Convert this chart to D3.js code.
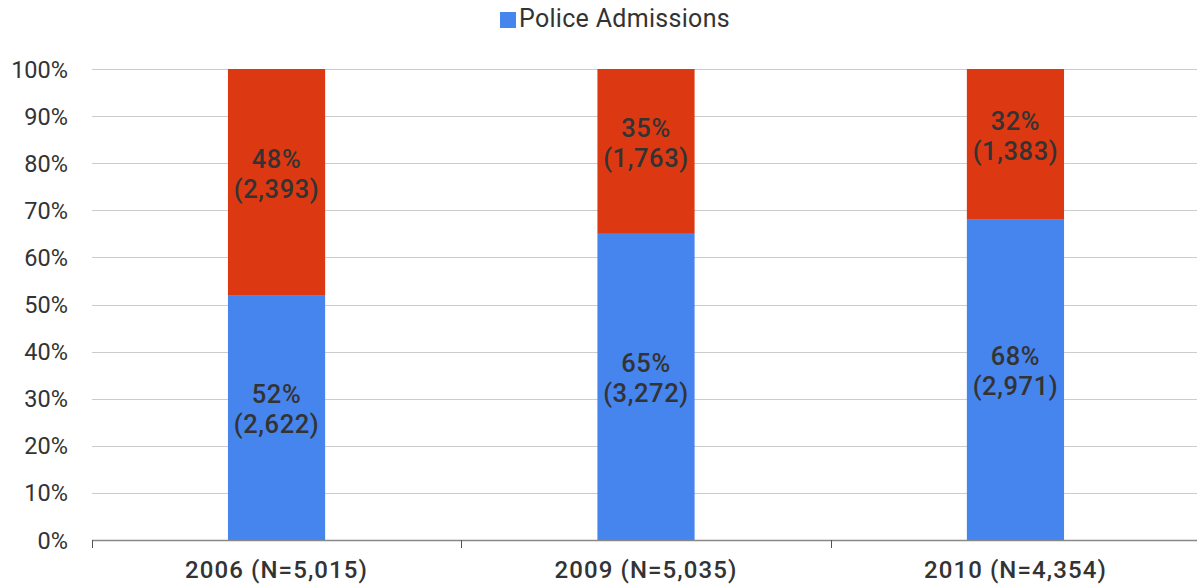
<!DOCTYPE html>
<html>
<head>
<meta charset="utf-8">
<script src="https://cdn.jsdelivr.net/npm/d3@7"></script>
<style>
body { margin: 0; background: #fff; }
text { font-family: Roboto, sans-serif; fill: #333; }
</style>
</head>
<body>
<svg id="chart" width="1197" height="586"></svg>
<script>
var years = ['2006 (N=5,015)', '2009 (N=5,035)', '2010 (N=4,354)'];
var policePct = [52, 65, 68];
var otherPct = [48, 35, 32];
var policeN = ['2,622', '3,272', '2,971'];
var otherN = ['2,393', '1,763', '1,383'];
var yTicks = [0, 10, 20, 30, 40, 50, 60, 70, 80, 90, 100];

var svg = d3.select('#chart');
var plotLeft = 92, plotRight = 1200, plotTop = 69, plotBottom = 540;

var x = d3.scaleBand().domain(years).range([plotLeft, plotRight]).paddingInner(0.737).paddingOuter(0.368);
var y = d3.scaleLinear().domain([0, 100]).range([plotBottom, plotTop]);

// grid
svg.selectAll('line.grid')
  .data(yTicks.slice(1))
  .enter().append('line')
  .attr('x1', plotLeft).attr('x2', 1197)
  .attr('y1', d => Math.round(y(d)) + 0.5).attr('y2', d => Math.round(y(d)) + 0.5)
  .attr('stroke', '#cccccc').attr('stroke-width', 1);

svg.selectAll('text.ytick')
  .data(yTicks)
  .enter().append('text')
  .attr('x', 68).attr('y', d => y(d) + 8.5)
  .attr('text-anchor', 'end')
  .style('font-size', '23.5px')
  .text(d => d + '%');

var data = years.map(function (yr, i) {
  return { year: yr, p: policePct[i], o: otherPct[i], pn: policeN[i], on: otherN[i] };
});

// police (bottom)
svg.selectAll('rect.police')
  .data(data).enter().append('rect')
  .attr('x', d => x(d.year)).attr('width', x.bandwidth())
  .attr('y', d => y(d.p)).attr('height', d => y(0) - y(d.p))
  .attr('fill', '#4684ee');

svg.selectAll('rect.other')
  .data(data).enter().append('rect')
  .attr('x', d => x(d.year)).attr('width', x.bandwidth())
  .attr('y', d => y(d.p + d.o)).attr('height', d => y(d.p) - y(d.p + d.o))
  .attr('fill', '#dc3912');

function label(sel, v0, v1, pct, n) {
  var cx = d => x(d.year) + x.bandwidth() / 2;
  var cy = d => y((v0(d) + v1(d)) / 2);
  sel.append('text')
    .attr('text-anchor', 'middle')
    .style('font-size', '25.5px').style('font-weight', '500').style('letter-spacing', '0.6px')
    .attr('x', cx).attr('y', d => cy(d) - 14.5)
    .text(d => pct(d) + '%');
  sel.append('text')
    .attr('text-anchor', 'middle')
    .style('font-size', '25.5px').style('font-weight', '500').style('letter-spacing', '0.6px')
    .attr('x', cx).attr('y', d => cy(d) + 15.5)
    .text(d => '(' + n(d) + ')');
}
var lg = svg.append('g');
label(lg.selectAll('text.p').data(data).enter(), d => 0, d => d.p, d => d.p, d => d.pn);
label(lg.selectAll('text.o').data(data).enter(), d => d.p, d => d.p + d.o, d => d.o, d => d.on);

// x axis
svg.append('line')
  .attr('x1', plotLeft).attr('x2', 1197)
  .attr('y1', plotBottom + 0.5).attr('y2', plotBottom + 0.5)
  .attr('stroke', '#888').attr('stroke-width', 1.5);

var sep = [plotLeft].concat(years.slice(1).map(d => x(d) - x.step() * x.paddingInner() / 2));
svg.selectAll('line.xtick')
  .data(sep).enter().append('line')
  .attr('x1', d => Math.round(d) + 0.5).attr('x2', d => Math.round(d) + 0.5)
  .attr('y1', plotBottom).attr('y2', plotBottom + 8)
  .attr('stroke', '#555').attr('stroke-width', 1);

svg.selectAll('text.xlab')
  .data(years).enter().append('text')
  .attr('x', d => x(d) + x.bandwidth() / 2)
  .attr('y', 578)
  .attr('text-anchor', 'middle')
  .style('font-size', '24px').style('font-weight', '500').style('letter-spacing', '1.1px')
  .text(d => d);

// legend
svg.append('rect').attr('x', 500).attr('y', 12).attr('width', 16).attr('height', 16).attr('fill', '#4684ee');
svg.append('text').attr('x', 519).attr('y', 27).style('font-size', '25px').style('letter-spacing', '0.3px').text('Police Admissions');
</script>
</body>
</html>
